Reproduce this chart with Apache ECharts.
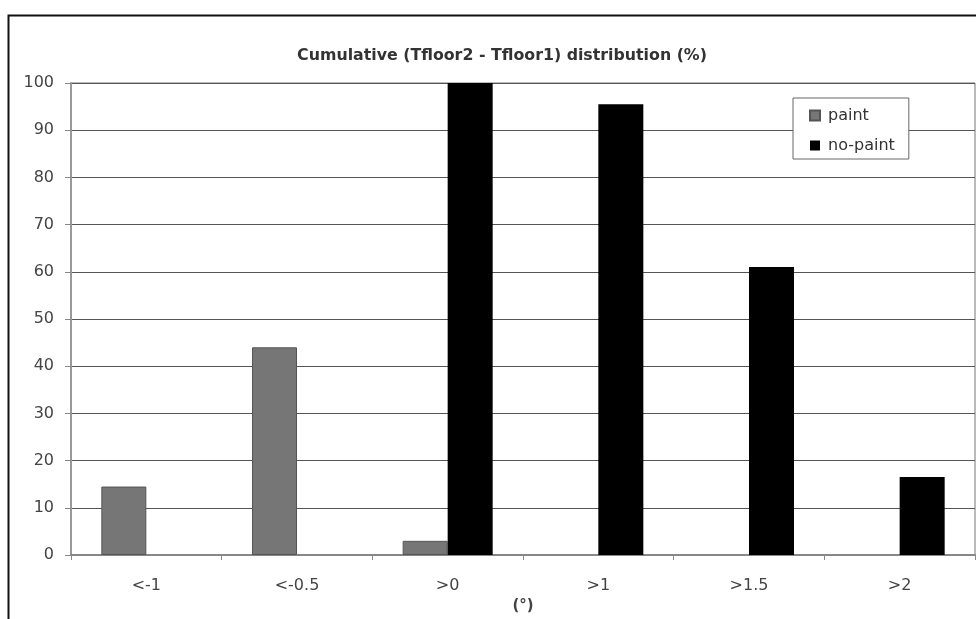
<!DOCTYPE html>
<html>
<head>
<meta charset="utf-8">
<script src="https://cdn.jsdelivr.net/npm/echarts@6/dist/echarts.min.js"></script>
<style>html,body{margin:0;padding:0;background:#fff}#c{width:976px;height:619px}</style>
</head>
<body>
<div id="c"></div>
<script>
var categories = ['<-1', '<-0.5', '>0', '>1', '>1.5', '>2'];
var paint = [14.5, 44, 3, 0, 0, 0];
var noPaint = [0, 0, 100, 95.5, 61, 16.5];
var yTicks = [0, 10, 20, 30, 40, 50, 60, 70, 80, 90, 100];

function hideZero(arr) { return arr.map(function (v) { return v === 0 ? '-' : v; }); }

var chart = echarts.init(document.getElementById('c'), null, {renderer: 'canvas'});
var font = 'DejaVu Sans, sans-serif';
chart.setOption({
  backgroundColor: '#fff',
  animation: false,
  title: {
    text: 'Cumulative (Tfloor2 - Tfloor1) distribution (%)',
    left: 497, top: 43, textAlign: 'center',
    textStyle: {fontFamily: font, fontSize: 15.8, fontWeight: 'bold', color: '#333'}
  },
  graphic: [{
    type: 'rect', shape: {x: 8.5, y: 15.5, width: 1000, height: 700},
    style: {fill: 'none', stroke: '#111', lineWidth: 2}, silent: true, z: 100
  }],
  legend: {
    left: 793, top: 98, orient: 'vertical', itemWidth: 10, itemHeight: 10, itemGap: 11,
    padding: [8, 14, 4, 16],
    borderColor: '#666', borderWidth: 1, backgroundColor: '#fff',
    icon: 'rect',
    textStyle: {fontFamily: font, fontSize: 16, color: '#333', lineHeight: 19, padding: [0, 0, 0, 3]},
    data: ['paint', 'no-paint']
  },
  grid: {left: 71, right: 1, top: 83, bottom: 64, show: true, borderColor: '#777', borderWidth: 1, backgroundColor: '#fff'},
  xAxis: {
    type: 'category', data: categories,
    name: '(°)', nameLocation: 'middle', nameGap: 42,
    nameTextStyle: {fontFamily: font, fontSize: 15, fontWeight: 'bold', color: '#444'},
    axisLine: {lineStyle: {color: '#888', width: 2}},
    axisTick: {show: true, length: 5, lineStyle: {color: '#888'}},
    axisLabel: {fontFamily: font, fontSize: 16, color: '#444', margin: 23},
    splitLine: {show: false}
  },
  yAxis: {
    type: 'value', min: 0, max: 100, interval: 10,
    axisLine: {show: true, lineStyle: {color: '#999', width: 2}},
    axisTick: {show: true, length: 6, lineStyle: {color: '#888'}},
    axisLabel: {fontFamily: font, fontSize: 16, color: '#444', margin: 17,
      formatter: function (v) { return yTicks.indexOf(v) >= 0 ? String(v) : ''; }},
    splitLine: {show: true, lineStyle: {color: '#555', width: 1}}
  },
  series: [{
    name: 'paint', type: 'bar', data: hideZero(paint), barWidth: 45, barGap: '0%',
    itemStyle: {color: '#767676', borderColor: '#555', borderWidth: 1}
  }, {
    name: 'no-paint', type: 'bar', data: hideZero(noPaint), barWidth: 45, barGap: '0%',
    itemStyle: {color: '#000'}
  }]
});
</script>
</body>
</html>
